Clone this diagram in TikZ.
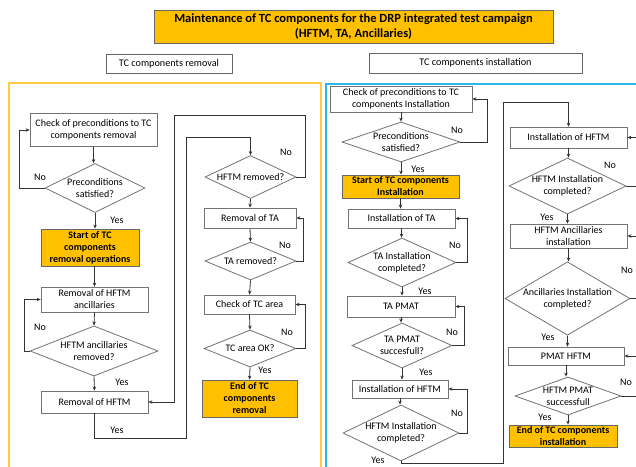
\documentclass[tikz,border=0pt]{standalone}
\usepackage{fontspec}
\setmainfont{Carlito}
\usepackage{tikz}
\usetikzlibrary{arrows.meta,positioning,shapes.geometric,calc}
\usepackage{xcolor}
\definecolor{tcorange}{HTML}{FFC000}
\definecolor{frameorange}{HTML}{FFCB45}
\definecolor{frameblue}{HTML}{2DB5EE}
\tikzset{
  process/.style={rectangle,draw=black!55,fill=white,line width=0.8pt,inner sep=1pt,
    font=\fontsize{10}{12}\selectfont,align=center},
  milestone/.style={process,draw=black!60,fill=tcorange,font=\fontsize{10}{12}\selectfont\bfseries},
  decision/.style={diamond,draw=black!55,fill=white,line width=0.8pt,inner sep=-9pt,
    font=\fontsize{10}{12}\selectfont,align=center},
  header/.style={rectangle,draw=black!60,fill=white,line width=0.8pt,
    font=\fontsize{10.2}{12}\selectfont},
  title/.style={rectangle,draw=black!60,fill=tcorange,line width=0.8pt,inner sep=1pt,
    font=\fontsize{12.5}{14.5}\selectfont\bfseries,align=center},
  wh/.style 2 args={minimum width=#1pt,minimum height=#2pt},
  arrow/.style={-{Stealth[length=4pt,width=3.5pt]},line width=0.8pt,draw=black!80},
  lbl/.style={font=\fontsize{10}{12}\selectfont,inner sep=0pt}
}

\begin{document}
\begin{tikzpicture}[x=1pt,y=-1pt]
  \useasboundingbox (0,0) rectangle (636,466);
  \clip (0,0) rectangle (636,466);
  \fill[white] (0,0) rectangle (636,466);

  \draw[frameorange,line width=2pt] (9,83) rectangle (321,480);
  \draw[frameblue,line width=2pt] (326,84) rectangle (660,480);

  \node[title,wh={399}{33}] (head) at (353.5,26.5)
    {Maintenance of TC components for the DRP integrated test campaign\\(HFTM, TA, Ancillaries)};
  \node[header,wh={126}{19}] (hrem) at (169,63.5) {TC components removal};
  \node[header,wh={213}{20}] (hins) at (475.5,63) {TC components installation};

  % removal
  \node[process,wh={127}{33}] (rc1) at (93.5,130) {Check of preconditions to TC\\components removal};
  \node[decision,wh={100}{49}] (rd1) at (95,188) {Preconditions\\satisfied?};
  \node[milestone,wh={98}{37}] (rs) at (90,247.5) {Start of TC\\components\\removal operations};
  \node[process,wh={107}{25}] (rb1) at (94.5,299.5) {Removal of HFTM\\ancillaries};
  \node[decision,wh={128}{48}] (rd2) at (94,351) {HFTM ancillaries\\removed?};
  \node[process,wh={107}{22}] (rb2) at (94.5,402) {Removal of HFTM};
  \node[decision,wh={91}{43}] (rd3) at (250.5,177) {HFTM removed?};
  \node[process,wh={92}{20}] (rb3) at (250,218) {Removal of TA};
  \node[decision,wh={91}{38}] (rd4) at (250.5,261) {TA removed?};
  \node[process,wh={91}{19}] (rb4) at (249.5,304.5) {Check of TC area};
  \node[decision,wh={92}{37}] (rd5) at (250,348.5) {TC area OK?};
  \node[milestone,wh={95}{37}] (re) at (249.5,398.5) {End of TC\\components\\removal};
  \coordinate (rjoin) at (186,438);
  \coordinate (rloop) at (174,115);

  \draw[arrow] (rc1.south) -- (rc1.south |- rd1.north);
  \draw[arrow] (rd1.south) -- (rd1.south |- rs.north);
  \draw[arrow] (rd1.west) -- ++(-25,0) |- (rc1.west);
  \draw[arrow] (rs.south -| rb1.north) -- (rb1.north);
  \draw[arrow] (rb1.south) -- (rd2.north);
  \draw[arrow] (rd2.west) -- ++(-5,0) |- (rb1.west);
  \draw[arrow] (rd2.south) -- (rb2.north);
  \draw[arrow] (rb2.south) |- (rjoin) |- ($(rd3.north)+(0,-18)$) -- (rd3.north);
  \draw[arrow] (rd3.east) -- ++(9,0) |- (rloop) |- (rb2.east);
  \draw[arrow] (rd3.south) -- (rb3.north);
  \draw[arrow] (rb3.south) -- (rd4.north);
  \draw[arrow] (rd4.east) -- ++(7,0) |- (rb3.east);
  \draw[arrow] (rd4.south) -- (rb4.north);
  \draw[arrow] (rb4.south) -- (rd5.north);
  \draw[arrow] (rd5.east) -- ++(9,0) |- (rb4.east);
  \draw[arrow] (rd5.south) -- (re.north);

  \node[lbl] at (40,177) {No};
  \node[lbl] at (117,220) {Yes};
  \node[lbl] at (40,327) {No};
  \node[lbl] at (122,382) {Yes};
  \node[lbl] at (117,430) {Yes};
  \node[lbl] at (286,152) {No};
  \node[lbl] at (285,245) {No};
  \node[lbl] at (287,332) {No};
  \node[lbl] at (265,370) {Yes};

  % installation
  \node[process,wh={142}{26}] (ic1) at (401,99) {Check of preconditions to TC\\components Installation};
  \node[decision,wh={118}{40}] (id1) at (401,142) {Preconditions\\satisfied?};
  \node[milestone,wh={117}{23}] (is) at (400.5,186.5) {Start of TC components\\Installation};
  \node[process,wh={107}{19}] (ib1) at (401.5,218.5) {Installation of TA};
  \node[decision,wh={108}{49}] (id2) at (402,262.5) {TA Installation\\completed?};
  \node[process,wh={108}{21}] (ib2) at (401,306.5) {TA PMAT};
  \node[decision,wh={100}{45}] (id3) at (402,345.5) {TA PMAT\\succesfull?};
  \node[process,wh={96}{18}] (ib3) at (400,389) {Installation of HFTM};
  \node[decision,wh={116}{48}] (id4) at (401,433) {HFTM Installation\\completed?};
  \node[process,wh={117}{21}] (jb1) at (568.5,137.5) {Installation of HFTM};
  \node[decision,wh={117}{48}] (jd1) at (567.5,186) {HFTM Installation\\completed?};
  \node[process,wh={117}{24}] (jb2) at (568.5,236) {HFTM Ancillaries\\installation};
  \node[decision,wh={125}{63}] (jd2) at (567.5,298.5) {Ancillaries Installation\\completed?};
  \node[process,wh={116}{18}] (jb3) at (566,356) {PMAT HFTM};
  \node[decision,wh={106}{38}] (jd3) at (568,396) {HFTM PMAT\\successfull};
  \node[milestone,wh={108}{22}] (je) at (563,436) {End of TC components\\installation};
  \coordinate (ijoin) at (503,463);

  \draw[arrow] (ic1.south) -- (ic1.south |- id1.north);
  \draw[arrow] (id1.east) -- ++(27,0) |- (ic1.east);
  \draw[arrow] (id1.south) -- (id1.south |- is.north);
  \draw[arrow] (is.south) -- (is.south |- ib1.north);
  \draw[arrow] (ib1.south) -- (ib1.south |- id2.north);
  \draw[arrow] (id2.east) -- ++(11,0) |- (ib1.east);
  \draw[arrow] (id2.south) -- (id2.south |- ib2.north);
  \draw[arrow] (ib2.south) -- (ib2.south |- id3.north);
  \draw[arrow] (id3.east) -- ++(12,0) |- (ib2.east);
  \draw[arrow] (id3.south) -- (id3.south |- ib3.north);
  \draw[arrow] (ib3.south) -- (ib3.south |- id4.north);
  \draw[arrow] (id4.east) -- ++(8,0) |- (ib3.east);
  \draw[arrow] (id4.south) |- (ijoin) |- ($(jb1.north)+(0,-24)$) -- (jb1.north);
  \draw[arrow] (jb1.south) -- (jb1.south |- jd1.north);
  \draw[arrow] (jd1.east) -- ++(30,0) |- (jb1.east);
  \draw[arrow] (jd1.south) -- (jd1.south |- jb2.north);
  \draw[arrow] (jb2.south) -- (jb2.south |- jd2.north);
  \draw[arrow] (jd2.east) -- ++(30,0) |- (jb2.east);
  \draw[arrow] (jd2.south) -- (jd2.south |- jb3.north);
  \draw[arrow] (jb3.south) -- (jb3.south |- jd3.north);
  \draw[arrow] (jd3.east) -- ++(30,0) |- (jb3.east);
  \draw[arrow] (jd3.south) -- (jd3.south |- je.north);

  \node[lbl] at (457,130) {No};
  \node[lbl] at (418,169) {Yes};
  \node[lbl] at (455,245) {No};
  \node[lbl] at (425,291) {Yes};
  \node[lbl] at (452,332) {No};
  \node[lbl] at (426,372) {Yes};
  \node[lbl] at (457,413) {No};
  \node[lbl] at (378,460) {Yes};
  \node[lbl] at (610,165) {No};
  \node[lbl] at (547,217) {Yes};
  \node[lbl] at (627,270) {No};
  \node[lbl] at (548,337) {Yes};
  \node[lbl] at (626,382) {No};
  \node[lbl] at (545,417) {Yes};
\end{tikzpicture}
\end{document}
